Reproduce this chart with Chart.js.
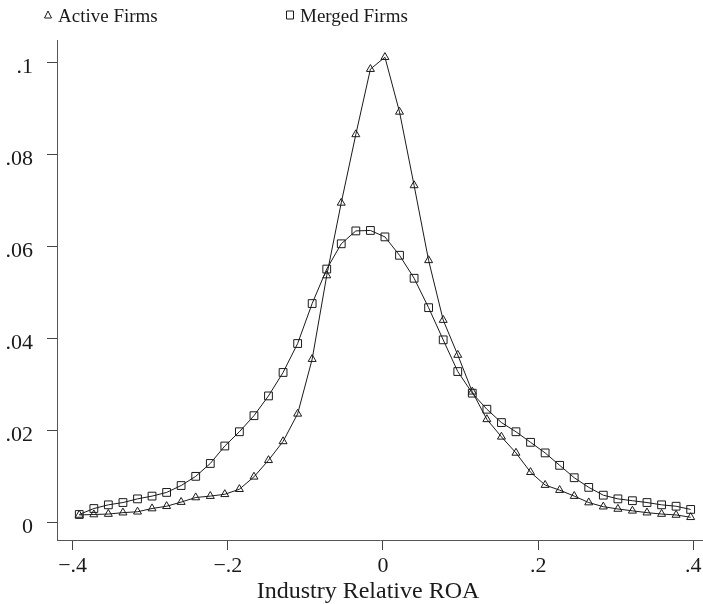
<!DOCTYPE html>
<html lang="en">
<head>
    <meta charset="UTF-8">
    <title>Industry Relative ROA</title>
    <style>
        body { margin: 0; background: #fff; }
        #wrap { position: relative; width: 703px; height: 604px; }
    </style>
</head>
<body>
    <div id="wrap">
      <canvas id="myChart" width="703" height="604"></canvas>
    </div>

    <script src="https://cdn.jsdelivr.net/npm/chart.js@4/dist/chart.umd.min.js"></script>
    <script>
      // evaluation points (industry relative ROA)
      var roi = [-0.3915, -0.3727, -0.3540, -0.3352, -0.3164, -0.2977, -0.2789, -0.2602, -0.2414, -0.2226,
                 -0.2039, -0.1851, -0.1663, -0.1476, -0.1288, -0.1100, -0.0913, -0.0725, -0.0538, -0.0350,
                 -0.0162, 0.0025, 0.0213, 0.0401, 0.0588, 0.0776, 0.0964, 0.1151, 0.1339, 0.1527,
                 0.1714, 0.1902, 0.2090, 0.2277, 0.2465, 0.2652, 0.2840, 0.3028, 0.3215, 0.3403,
                 0.3591, 0.3778, 0.3966];

      var activeFirms = [0.0016, 0.0017, 0.0018, 0.0021, 0.0023, 0.0030, 0.0035, 0.0044, 0.0054, 0.0057,
                         0.0061, 0.0072, 0.0099, 0.0135, 0.0176, 0.0236, 0.0355, 0.0537, 0.0695, 0.0844,
                         0.0986, 0.1012, 0.0893, 0.0733, 0.0570, 0.0440, 0.0364, 0.0284, 0.0224, 0.0186,
                         0.0151, 0.0109, 0.0081, 0.0070, 0.0057, 0.0043, 0.0034, 0.0029, 0.0025, 0.0021,
                         0.0018, 0.0016, 0.0011];

      var mergedFirms = [0.0017, 0.0030, 0.0038, 0.0043, 0.0051, 0.0057, 0.0065, 0.0080, 0.0100, 0.0128,
                         0.0166, 0.0197, 0.0232, 0.0275, 0.0326, 0.0389, 0.0476, 0.0551, 0.0606, 0.0634,
                         0.0635, 0.0621, 0.0581, 0.0531, 0.0467, 0.0397, 0.0328, 0.0281, 0.0246, 0.0217,
                         0.0197, 0.0174, 0.0151, 0.0124, 0.0097, 0.0076, 0.0059, 0.0051, 0.0047, 0.0043,
                         0.0038, 0.0035, 0.0028];

      var seriesNames = ['Active Firms', 'Merged Firms'];
      var xTicks = [-0.4, -0.2, 0, 0.2, 0.4];
      var yTicks = [0, 0.02, 0.04, 0.06, 0.08, 0.1];

      var ink = '#1a1a1a';
      var serif = '"Liberation Serif", "Times New Roman", serif';

      function pairs(ys) {
        return roi.map(function (x, i) { return {x: x, y: ys[i]}; });
      }

      // stata style labels: .08, -.2, 0
      function stataNum(v) {
        if (v === 0) return '0';
        var s = String(Math.abs(v)).replace(/^0/, '');
        return (v < 0 ? '\u2212' : '') + s;
      }

      // two-column legend above the plot, like the stata one
      var legendSpots = [48, 290];
      var stataLegend = {
        id: 'stataLegend',
        afterDraw: function (chart) {
          var ctx = chart.ctx;
          ctx.save();
          ctx.font = '19px ' + serif;
          ctx.fillStyle = ink;
          ctx.strokeStyle = ink;
          ctx.lineWidth = 1;
          ctx.textBaseline = 'alphabetic';
          chart.data.datasets.forEach(function (ds, i) {
            var cx = legendSpots[i], cy = 15;
            ctx.beginPath();
            if (ds.pointStyle === 'triangle') {
              ctx.moveTo(cx, cy - 4);
              ctx.lineTo(cx - 3.5, cy + 3);
              ctx.lineTo(cx + 3.5, cy + 3);
              ctx.closePath();
            } else {
              ctx.rect(cx - 3.5, cy - 4, 7, 8);
            }
            ctx.stroke();
            ctx.fillText(ds.label, cx + 10, 22);
          });
          ctx.restore();
        }
      };

      function createChart() {
        var ctx = document.getElementById('myChart').getContext('2d');
        new Chart(ctx, {
          type: 'line',
          data: {
            datasets: [
              {
                label: seriesNames[0],
                data: pairs(activeFirms),
                borderColor: ink,
                borderWidth: 1,
                tension: 0,
                pointStyle: 'triangle',
                pointRadius: 4.6,
                pointBorderWidth: 1,
                pointBorderColor: ink,
                pointBackgroundColor: 'rgba(0,0,0,0)'
              },
              {
                label: seriesNames[1],
                data: pairs(mergedFirms),
                borderColor: ink,
                borderWidth: 1,
                tension: 0,
                pointStyle: 'rect',
                pointRadius: 5.5,
                pointBorderWidth: 1,
                pointBorderColor: ink,
                pointBackgroundColor: 'rgba(0,0,0,0)'
              }
            ]
          },
          options: {
            responsive: false,
            animation: false,
            layout: { autoPadding: false, padding: { top: 40, right: 0, left: 0, bottom: 0 } },
            plugins: {
              legend: { display: false },
              tooltip: { enabled: false }
            },
            scales: {
              x: {
                type: 'linear',
                min: -0.4202,
                max: 0.4125,
                afterBuildTicks: function (s) { s.ticks = xTicks.map(function (v) { return {value: v}; }); },
                afterFit: function (s) {
                  s.height = 64;
                  s.paddingLeft = 0;
                  s.paddingRight = 0;
                },
                grid: { drawOnChartArea: false, tickLength: 10, color: '#444', tickWidth: 1 },
                border: { display: true, color: '#555', width: 1 },
                ticks: {
                  autoSkip: false,
                  maxRotation: 0,
                  padding: 3,
                  color: ink,
                  font: { family: serif, size: 22 },
                  callback: function (v) { return stataNum(v); }
                },
                title: {
                  display: true,
                  text: 'Industry Relative ROA\u00a0\u00a0\u00a0\u00a0',
                  color: ink,
                  font: { family: serif, size: 24, lineHeight: 1.05 },
                  padding: { top: 0, bottom: 0 }
                }
              },
              y: {
                type: 'linear',
                min: -0.00385,
                max: 0.10494,
                afterBuildTicks: function (s) { s.ticks = yTicks.map(function (v) { return {value: v}; }); },
                afterFit: function (s) {
                  s.width = 57;
                  s.paddingTop = 0;
                  s.paddingBottom = 0;
                },
                grid: { drawOnChartArea: false, tickLength: 10, color: '#444', tickWidth: 1 },
                border: { display: true, color: '#555', width: 1 },
                ticks: {
                  autoSkip: false,
                  padding: 14,
                  labelOffset: 5,
                  color: ink,
                  font: { family: serif, size: 22 },
                  callback: function (v) { return stataNum(v); }
                }
              }
            }
          },
          plugins: [stataLegend]
        });
      }

      createChart();
    </script>
</body>
</html>
